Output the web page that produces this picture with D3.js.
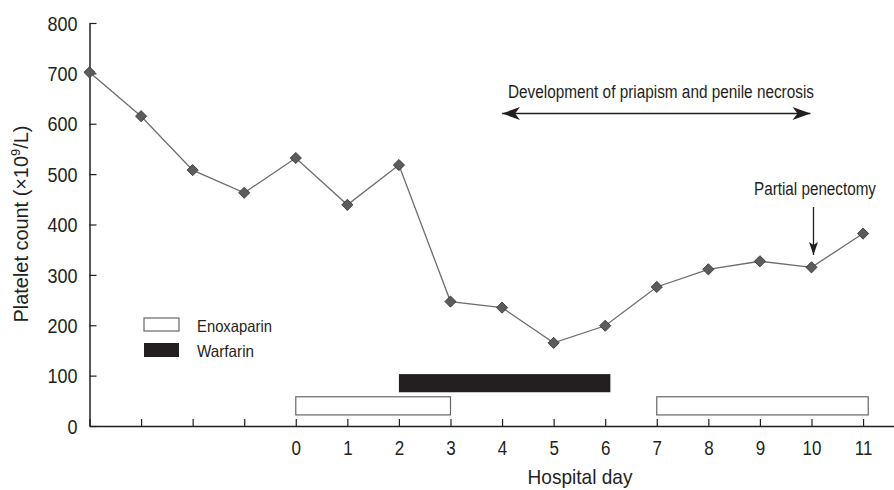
<!DOCTYPE html>
<html><head><meta charset="utf-8">
<script src="https://cdn.jsdelivr.net/npm/d3@7"></script>
<style>
body{margin:0;background:#fff;}
svg text{font-family:"Liberation Sans",Arial,sans-serif;fill:#231f20;}
</style></head><body>
<svg id="c" width="894" height="490"></svg>
<script>
const days = [-4,-3,-2,-1,0,1,2,3,4,5,6,7,8,9,10,11];
const platelets = [702,615,508,463,532,439,518,247,235,165,199,276,311,327,315,382];
const xTickLabels = ["0","1","2","3","4","5","6","7","8","9","10","11"];
const yTicks = [0,100,200,300,400,500,600,700,800];
const enoxaparin = [{start:0,end:3},{start:7,end:11.1}];
const warfarin = [{start:2,end:6.1}];
const enoxBand = [22,58];
const warfBand = [67,103];
const legendItems = ["Enoxaparin","Warfarin"];
const necrosisSpan = [4,10];
const necrosisLabel = "Development of priapism and penile necrosis";
const penectomyDay = 10;
const penectomyLabel = "Partial penectomy";

const svg = d3.select("#c");
const x = d3.scaleLinear().domain([-4, 11.6]).range([89.5, 894]);
const y = d3.scaleLinear().domain([0, 800]).range([426, 23]);
const axisColor = "#231f20";

function squeeze(sel, factor){
  sel.each(function(){
    const w = this.getComputedTextLength();
    this.setAttribute("textLength", w*factor);
    this.setAttribute("lengthAdjust","spacingAndGlyphs");
  });
}
function fitWidth(sel, width){
  sel.attr("textLength", width).attr("lengthAdjust","spacingAndGlyphs");
}

// bars
svg.selectAll("rect.enox").data(enoxaparin).enter().append("rect")
  .attr("x", d=>x(d.start)).attr("width", d=>x(d.end)-x(d.start))
  .attr("y", y(enoxBand[1])).attr("height", y(enoxBand[0])-y(enoxBand[1]))
  .attr("fill","#fff").attr("stroke","#666").attr("stroke-width",1.2);
svg.selectAll("rect.warf").data(warfarin).enter().append("rect")
  .attr("x", d=>x(d.start)).attr("width", d=>x(d.end)-x(d.start))
  .attr("y", y(warfBand[1])).attr("height", y(warfBand[0])-y(warfBand[1]))
  .attr("fill","#231f20");

// axes
const yAxis = d3.axisLeft(y).tickValues(yTicks).tickSizeInner(-7).tickSizeOuter(0).tickPadding(12);
const gy = svg.append("g").attr("transform","translate(89.5,0)").call(yAxis);
gy.select(".domain").attr("stroke",axisColor).attr("stroke-width",1.5);
gy.selectAll(".tick line").attr("stroke",axisColor).attr("stroke-width",1.2);
gy.selectAll(".tick text").attr("font-size",20).attr("fill",axisColor)
  .style("font-family","'Liberation Sans',Arial,sans-serif").attr("dy","0.36em");
squeeze(gy.selectAll(".tick text"), 0.9);

const xAxis = d3.axisBottom(x).tickValues(days).tickSizeInner(-7).tickSizeOuter(0).tickPadding(14)
  .tickFormat(d => d >= 0 ? xTickLabels[d] : "");
const gx = svg.append("g").attr("transform","translate(0,426)").call(xAxis);
gx.select(".domain").attr("stroke",axisColor).attr("stroke-width",1.5);
gx.selectAll(".tick line").attr("stroke",axisColor).attr("stroke-width",1.2);
gx.selectAll(".tick text").attr("font-size",20).attr("fill",axisColor)
  .style("font-family","'Liberation Sans',Arial,sans-serif").attr("y",29).attr("dy",0);
squeeze(gx.selectAll(".tick text").filter(function(){return this.textContent.length>0;}), 0.85);

// axis titles
fitWidth(svg.append("text").attr("x",580).attr("y",484).attr("text-anchor","middle").attr("font-size",21).text("Hospital day"), 105);
const yt = svg.append("text").attr("text-anchor","middle").attr("font-size",20);
yt.append("tspan").text("Platelet count (×10");
yt.append("tspan").attr("dy",-8).attr("font-size",13).text("9");
yt.append("tspan").attr("dy",8).text("/L)");
const ytw = yt.node().getComputedTextLength();
yt.attr("transform",`translate(28,224) rotate(-90) scale(${197/ytw},1)`);

// line
const line = d3.line().x((d,i)=>x(days[i])).y(d=>y(d));
svg.append("path").datum(platelets).attr("d",line).attr("fill","none").attr("stroke","#6d6d6d").attr("stroke-width",1.3);
svg.selectAll("path.pt").data(platelets).enter().append("path")
  .attr("d", d3.symbol().type(d3.symbolDiamond2).size(80))
  .attr("transform",(d,i)=>`translate(${x(days[i])},${y(d)})`)
  .attr("fill","#5b5c5e").attr("stroke","#2e2e2e").attr("stroke-width",0.8);

// markers for arrows
const defs = svg.append("defs");
defs.append("marker").attr("id","ah").attr("viewBox","0 0 18 13").attr("refX",18).attr("refY",6.5)
  .attr("markerWidth",18).attr("markerHeight",13).attr("markerUnits","userSpaceOnUse").attr("orient","auto-start-reverse")
  .append("path").attr("d","M0,0 L18,6.5 L0,13 L5,6.5 Z").attr("fill","#231f20");
defs.append("marker").attr("id","ah2").attr("viewBox","0 0 13 9").attr("refX",13).attr("refY",4.5)
  .attr("markerWidth",13).attr("markerHeight",9).attr("markerUnits","userSpaceOnUse").attr("orient","auto")
  .append("path").attr("d","M0,0 L13,4.5 L0,9 L3,4.5 Z").attr("fill","#231f20");

// necrosis arrow
svg.append("line").attr("x1",x(necrosisSpan[0])).attr("x2",x(necrosisSpan[1])-1).attr("y1",113.5).attr("y2",113.5)
  .attr("stroke","#231f20").attr("stroke-width",1.3)
  .attr("marker-start","url(#ah)").attr("marker-end","url(#ah)");
fitWidth(svg.append("text").attr("x",661).attr("y",98).attr("text-anchor","middle")
  .attr("font-size",18).text(necrosisLabel), 306);

// penectomy
fitWidth(svg.append("text").attr("x",815).attr("y",195).attr("text-anchor","middle").attr("font-size",18).text(penectomyLabel), 122);
svg.append("line").attr("x1",x(penectomyDay)+2).attr("x2",x(penectomyDay)+2).attr("y1",207).attr("y2",255)
  .attr("stroke","#231f20").attr("stroke-width",1.3).attr("marker-end","url(#ah2)");

// legend
const lg = svg.append("g").attr("transform","translate(144,318)");
lg.append("rect").attr("x",0).attr("y",0).attr("width",35).attr("height",13).attr("fill","#fff").attr("stroke","#666").attr("stroke-width",1.2);
lg.append("rect").attr("x",0).attr("y",25).attr("width",35).attr("height",14).attr("fill","#231f20");
const legendWidths = [75,57];
lg.selectAll("text.l").data(legendItems).enter().append("text")
  .attr("x",53).attr("y",(d,i)=>13.5+i*25).attr("font-size",16.5).text(d=>d)
  .attr("textLength",(d,i)=>legendWidths[i]).attr("lengthAdjust","spacingAndGlyphs");
</script></body></html>
